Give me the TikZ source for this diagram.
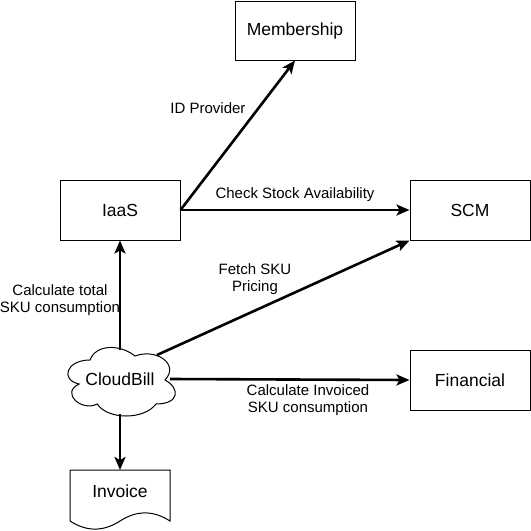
\documentclass[tikz,border=0pt]{standalone}
\usepackage{fontspec}
\setmainfont{Liberation Sans}
\usetikzlibrary{arrows.meta}
\begin{document}
\begin{tikzpicture}[x=1pt,y=-1pt,
  box/.style={draw=black,line width=1pt,minimum width=120pt,minimum height=60pt,inner sep=0pt,font=\fontsize{17.5}{20}\selectfont},
  conn/.style={line width=2.6pt,-{Stealth[length=13pt,width=11pt,inset=3pt]}},
  lbl/.style={inner sep=0pt,align=center,font=\fontsize{15}{17}\selectfont}]
\useasboundingbox (0,0) rectangle (531,531);
\fill[white] (0,0) rectangle (531,531);
\node[box,minimum height=59pt] (mem) at (295,30.5) {Membership};
\node[box] (iaas) at (120,210) {IaaS};
\node[box] (scm) at (470,210) {SCM};
\node[box] (fin) at (470,380) {Financial};
% cloud
\draw[line width=1pt,fill=white,shift={(60,340)}]
  (30,20) .. controls (6,20) and (0,40) .. (19.2,44)
  .. controls (0,52.8) and (21.6,72) .. (37.2,64)
  .. controls (48,80) and (84,80) .. (96,64)
  .. controls (120,64) and (120,48) .. (105,40)
  .. controls (120,24) and (96,8) .. (75,16)
  .. controls (60,4) and (36,4) .. (30,20) -- cycle;
\node[inner sep=0pt,font=\fontsize{17.5}{20}\selectfont] (cloud) at (120,379) {CloudBill};
\coordinate (ctop) at (120,350);
\coordinate (cright) at (170,379);
\coordinate (cbot) at (120,414);
\coordinate (cne) at (157,355);
% document
\draw[line width=1pt,fill=white] (70,470) -- (170,470) -- (170,521)
  .. controls (153.3,510.2) and (136.7,510.2) .. (120,521)
  .. controls (103.3,531.8) and (86.7,531.8) .. (70,521) -- cycle;
\node[inner sep=0pt,font=\fontsize{17.5}{20}\selectfont] (inv) at (120,491) {Invoice};
% connectors
\draw[conn] (iaas.east) -- (mem.south);
\draw[conn] (iaas.east) -- (scm.west);
\draw[conn] (ctop) -- (iaas.south);
\draw[conn] (cne) -- (scm.south west);
\draw[conn] (cright) -- (fin.west);
\draw[conn] (cbot) -- (inv.north |- 0,470);
% labels
\node[lbl] (l1) at (208,108.5) {ID Provider};
\node[lbl] (l2) at (295,195) {Check Stock Availability};
\node[lbl] (l3) at (60,300) {Calculate total\\SKU consumption};
\node[lbl] (l4) at (255,279.5) {Fetch SKU\\Pricing};
\node[lbl] (l5) at (308,400) {Calculate Invoiced\\SKU consumption};
\end{tikzpicture}
\end{document}
